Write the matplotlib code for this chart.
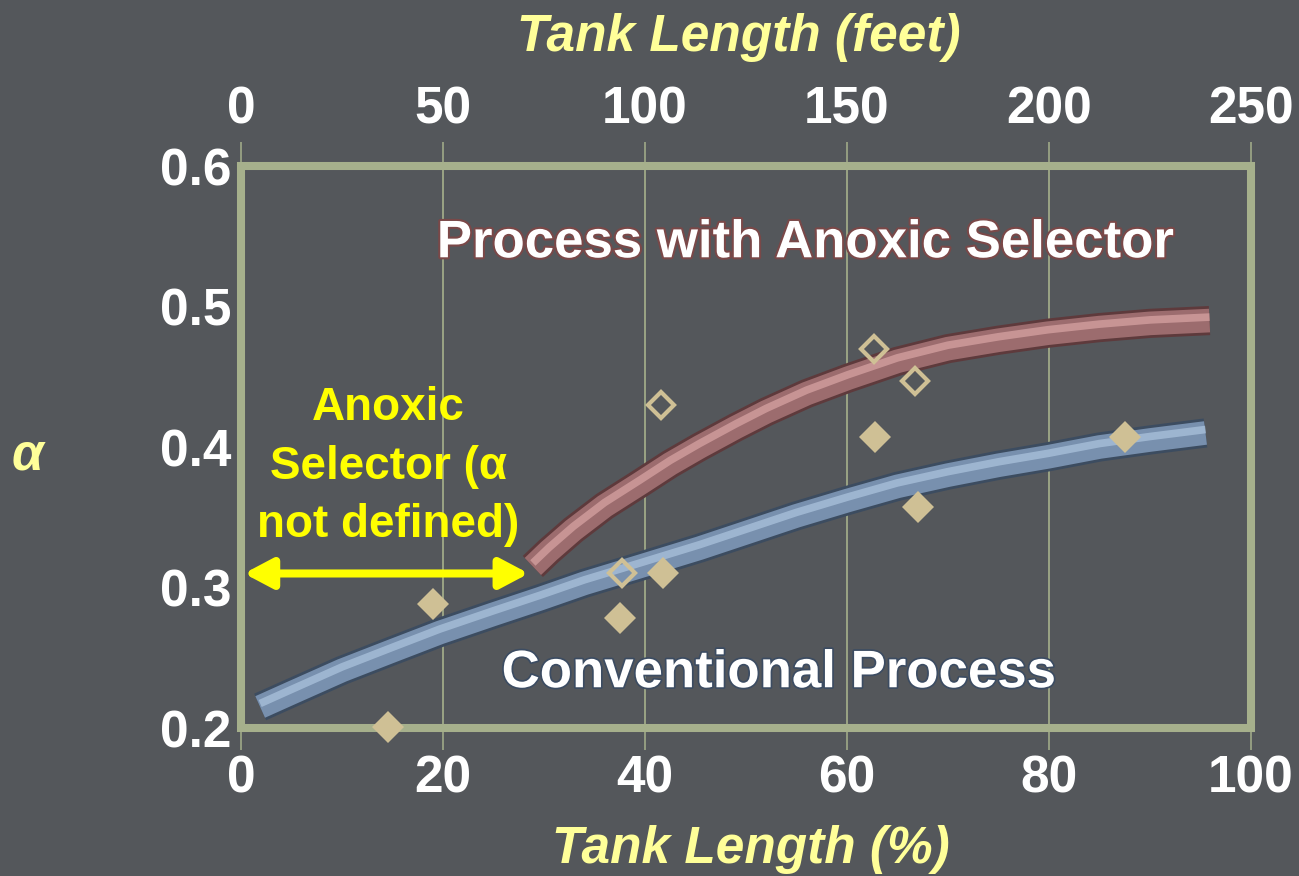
import numpy as np
import matplotlib
matplotlib.use("Agg")
import matplotlib.pyplot as plt
import matplotlib.patheffects as pe
from matplotlib.patches import Rectangle
from matplotlib.transforms import offset_copy

# alpha vs. tank length, conventional and anoxic-selector processes
conv_x = [1.9, 5.0, 10.0, 15.0, 19.7, 25.0, 29.6, 34.0, 39.5, 45.4, 50.0,
          55.0, 60.1, 65.0, 70.0, 75.0, 79.9, 85.0, 90.0, 95.5]
conv_alpha = [0.215, 0.225, 0.241, 0.255, 0.268, 0.281, 0.292, 0.303, 0.315,
              0.328, 0.339, 0.351, 0.362, 0.372, 0.380, 0.387, 0.393, 0.400,
              0.405, 0.410]

anox_x = [28.9, 30.5, 32.9, 36.0, 39.5, 42.5, 45.4, 49.0, 52.0, 56.0, 60.1,
          65.0, 70.0, 75.0, 79.9, 85.0, 90.0, 95.9]
anox_alpha = [0.315, 0.326, 0.341, 0.358, 0.374, 0.388, 0.400, 0.414, 0.425,
              0.438, 0.449, 0.461, 0.470, 0.476, 0.481, 0.485, 0.488, 0.490]

# measured points (open = anoxic selector, filled = conventional)
open_x = [37.7, 41.6, 62.7, 66.7]
open_alpha = [0.310, 0.430, 0.470, 0.447]
filled_x = [14.6, 19.0, 37.5, 41.8, 62.8, 67.0, 87.5]
filled_alpha = [0.201, 0.288, 0.278, 0.310, 0.407, 0.357, 0.407]

pct_ticks = [0, 20, 40, 60, 80, 100]
feet_ticks = [0, 50, 100, 150, 200, 250]
alpha_ticks = [0.2, 0.3, 0.4, 0.5, 0.6]

BG = "#54575b"
FRAME = "#a6b08c"
TAN = "#cfc095"
PALE_YELLOW = "#ffff99"

plt.rcParams["font.family"] = ["Liberation Sans", "DejaVu Sans"]
plt.rcParams["font.weight"] = "bold"

fig = plt.figure(figsize=(12.99, 8.76), dpi=100, facecolor=BG)
ax = fig.add_axes([0.1855, 0.1689, 0.7775, 0.6416], facecolor=BG)


def draw_tube(ax, x, y, dark, base, light):
    # fake 3d tube: dark rim, body colour, then a thin highlight nudged upward
    ax.plot(x, y, color=dark, lw=21, solid_capstyle="butt",
            solid_joinstyle="round", zorder=3)
    ax.plot(x, y, color=base, lw=17, solid_capstyle="butt",
            solid_joinstyle="round", zorder=3.1)
    hl = offset_copy(ax.transData, fig=fig, x=0, y=2.5, units="points")
    ax.plot(x, y, color=light, lw=5.5, solid_capstyle="butt",
            solid_joinstyle="round", zorder=3.2, transform=hl, alpha=0.75)


draw_tube(ax, conv_x, conv_alpha, "#3c4c60", "#7890ae", "#aac2dc")
draw_tube(ax, anox_x, anox_alpha, "#5e3a3c", "#9c6c6e", "#d6a2a2")

ax.plot(filled_x, filled_alpha, ls="none", marker="D", ms=16.5, mew=0,
        color=TAN, zorder=5, clip_on=False)
ax.plot(open_x, open_alpha, ls="none", marker="D", ms=13.5, mew=3,
        mfc="none", mec=TAN, zorder=5, clip_on=False)

ax.set_xlim(0, 100)
ax.set_ylim(0.2, 0.6)

for s in ax.spines.values():
    s.set_visible(False)
ax.add_patch(Rectangle((0, 0), 1, 1, transform=ax.transAxes, fill=False,
                       ec=FRAME, lw=5.8, joinstyle="miter", zorder=2.5,
                       clip_on=False))

ax.set_xticks(pct_ticks)
ax.set_yticks(alpha_ticks)
ax.set_yticklabels([f"{v:.1f}" for v in alpha_ticks])
ax.grid(axis="x", color=FRAME, lw=1.2, zorder=1)
ax.tick_params(axis="x", direction="out", length=16, width=1.1, color=FRAME,
               labelsize=37, labelcolor="white", pad=3)
ax.tick_params(axis="y", length=0, labelsize=37, labelcolor="white", pad=7)

secax = ax.secondary_xaxis("top", functions=(lambda p: p * 2.5, lambda f: f / 2.5))
secax.set_xticks(feet_ticks)
secax.spines["top"].set_visible(False)
secax.tick_params(direction="out", length=17, width=1.1, color=FRAME,
                  labelsize=37, labelcolor="white", pad=6)

fig.text(0.5685, 0.942, "Tank Length (feet)", ha="center", va="baseline",
         fontsize=37, style="italic", color=PALE_YELLOW)
fig.text(0.578, 0.015, "Tank Length (%)", ha="center", va="baseline",
         fontsize=37, style="italic", color=PALE_YELLOW)
fig.text(0.021, 0.48, "α", ha="center", va="center",
         fontsize=37, style="italic", color=PALE_YELLOW)

ax.text(55.8, 0.545, "Process with Anoxic Selector", ha="center", va="center",
        fontsize=38, color="white", zorder=6,
        path_effects=[pe.withStroke(linewidth=3, foreground="#7a4848")])
ax.text(53.2, 0.239, "Conventional Process", ha="center", va="center",
        fontsize=38, color="white", zorder=6,
        path_effects=[pe.withStroke(linewidth=2.5, foreground="#3c4c62")])

ax.text(14.6, 0.386, "Anoxic\nSelector (α\nnot defined)", ha="center",
        va="center", multialignment="center", fontsize=33,
        color="#ffff00", linespacing=1.42, zorder=6)
ax.annotate("", xy=(0.3, 0.310), xytext=(28.5, 0.310),
            arrowprops=dict(arrowstyle="<|-|>,head_length=1.7,head_width=0.9",
                            color="#ffff00", lw=5.8, mutation_scale=10,
                            shrinkA=0, shrinkB=0),
            zorder=6)

fig.savefig("out.png", dpi=100, facecolor=BG)
